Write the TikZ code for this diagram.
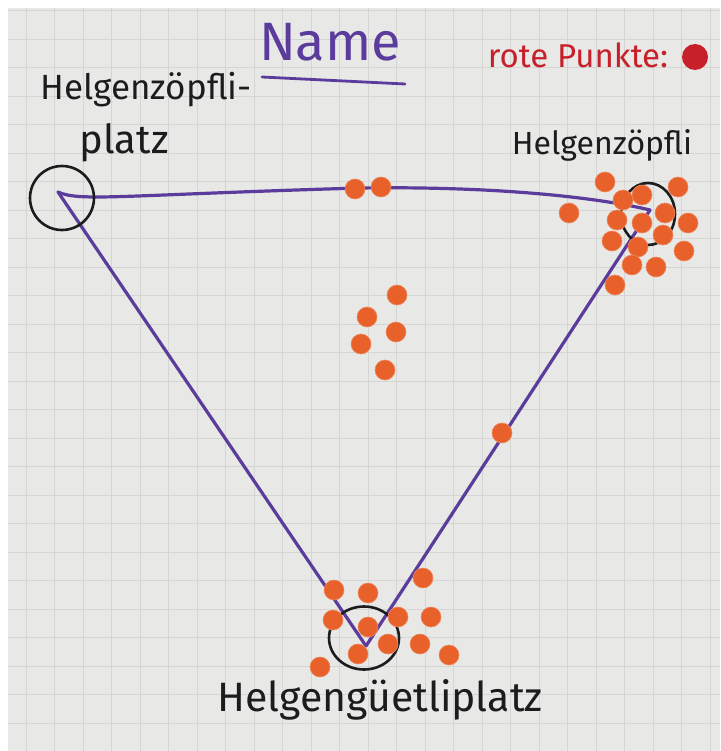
\documentclass[tikz,border=0pt]{standalone}
\usepackage{fontspec}
\setsansfont{Fira Sans}
\usetikzlibrary{shapes.geometric}

\definecolor{ink}{HTML}{1C1C1E}
\definecolor{penpurple}{HTML}{5B3C9C}
\definecolor{penred}{HTML}{C8202A}
\definecolor{dotorange}{HTML}{E8602A}
\definecolor{paper}{HTML}{E8E8E6}
\definecolor{gridgray}{HTML}{D5D5D3}

\begin{document}
\begin{tikzpicture}[
  x=1pt,
  y=-1pt,
  font=\sffamily,
  gridline/.style={draw=gridgray,line width=.8pt},
  edge/.style={draw=penpurple,line width=3.2pt,line cap=round,line join=round},
  ring/.style={ellipse,draw=ink,line width=2.6pt,inner sep=0pt},
  dot/.style={circle,fill=dotorange,draw=dotorange!75!white,line width=.6pt,
    minimum size=20pt,inner sep=0pt},
  handtext/.style={text=ink,inner sep=0pt,font=\sffamily\fontsize{35}{38}\selectfont}
]

\useasboundingbox (0,0) rectangle (720,751);
\fill[white] (0,0) rectangle (720,751);
\fill[paper] (8,8) rectangle (720,751);
\foreach \gx in {26,54.5,...,720} \draw[gridline] (\gx,8) -- (\gx,751);
\foreach \gy in {10.5,39,...,751} \draw[gridline] (8,\gy) -- (720,\gy);

\node[handtext,text=penpurple,font=\sffamily\fontsize{54}{58}\selectfont]
  (title) at (330,42) {Name};
\coordinate (ulineA) at (262,77);
\coordinate (ulineB) at (405,84);
\draw[edge,line width=2.8pt] (ulineA) -- (ulineB);

\node[handtext,text=penred,font=\sffamily\fontsize{33}{36}\selectfont]
  (legend) at (578,55) {rote Punkte:};
\node[circle,fill=penred,minimum size=26pt,inner sep=0pt] (legenddot) at (695,57) {};

\node[handtext] (platzlabelA) at (146,90) {Helgenzöpfli-};
\node[handtext,font=\sffamily\fontsize{40}{44}\selectfont]
  (platzlabelB) at (124,143) {platz};
\node[handtext,font=\sffamily\fontsize{32}{35}\selectfont]
  (zopflilabel) at (602,145) {Helgenzöpfli};
\node[handtext,font=\sffamily\fontsize{41}{45}\selectfont]
  (guetlilabel) at (380,700) {Helgengüetliplatz};

\coordinate (platzV) at (58,192);
\coordinate (zopfliV) at (650,210);
\coordinate (guetliV) at (366,646);
\coordinate (topbend) at (360,188);

\draw[edge] (platzV) .. controls (80,202) and (120,195) .. (topbend)
  .. controls (500,186) and (600,198) .. (zopfliV);
\draw[edge] (platzV) -- (guetliV) -- (zopfliV);

\node[ring,minimum width=64pt,minimum height=64pt] (platzring) at (62,198) {};
\node[ring,minimum width=54pt,minimum height=62pt] (zopfliring) at (648,214) {};
\node[ring,minimum width=70pt,minimum height=63pt] (guetliring) at (364,638) {};

\node[dot] (t1) at (355,189) {};
\node[dot] (t2) at (381,187) {};

\node[dot] (z1) at (605,182) {};
\node[dot] (z2) at (678,187) {};
\node[dot] (z3) at (642,195) {};
\node[dot] (z4) at (623,200) {};
\node[dot] (z5) at (569,213) {};
\node[dot] (z6) at (617,220) {};
\node[dot] (z7) at (642,223) {};
\node[dot] (z8) at (665,213) {};
\node[dot] (z9) at (688,223) {};
\node[dot] (z10) at (612,241) {};
\node[dot] (z11) at (663,235) {};
\node[dot] (z12) at (638,247) {};
\node[dot] (z13) at (684,251) {};
\node[dot] (z14) at (632,265) {};
\node[dot] (z15) at (656,267) {};
\node[dot] (z16) at (615,285) {};

\node[dot] (c1) at (397,295) {};
\node[dot] (c2) at (367,317) {};
\node[dot] (c3) at (396,332) {};
\node[dot] (c4) at (361,344) {};
\node[dot] (c5) at (385,370) {};

\node[dot] (e1) at (502,433) {};

\node[dot] (g1) at (334,590) {};
\node[dot] (g2) at (368,593) {};
\node[dot] (g3) at (423,578) {};
\node[dot] (g4) at (333,620) {};
\node[dot] (g5) at (368,627) {};
\node[dot] (g6) at (398,617) {};
\node[dot] (g7) at (431,617) {};
\node[dot] (g8) at (388,644) {};
\node[dot] (g9) at (420,644) {};
\node[dot] (g10) at (358,654) {};
\node[dot] (g11) at (320,667) {};
\node[dot] (g12) at (449,655) {};
\end{tikzpicture}
\end{document}
